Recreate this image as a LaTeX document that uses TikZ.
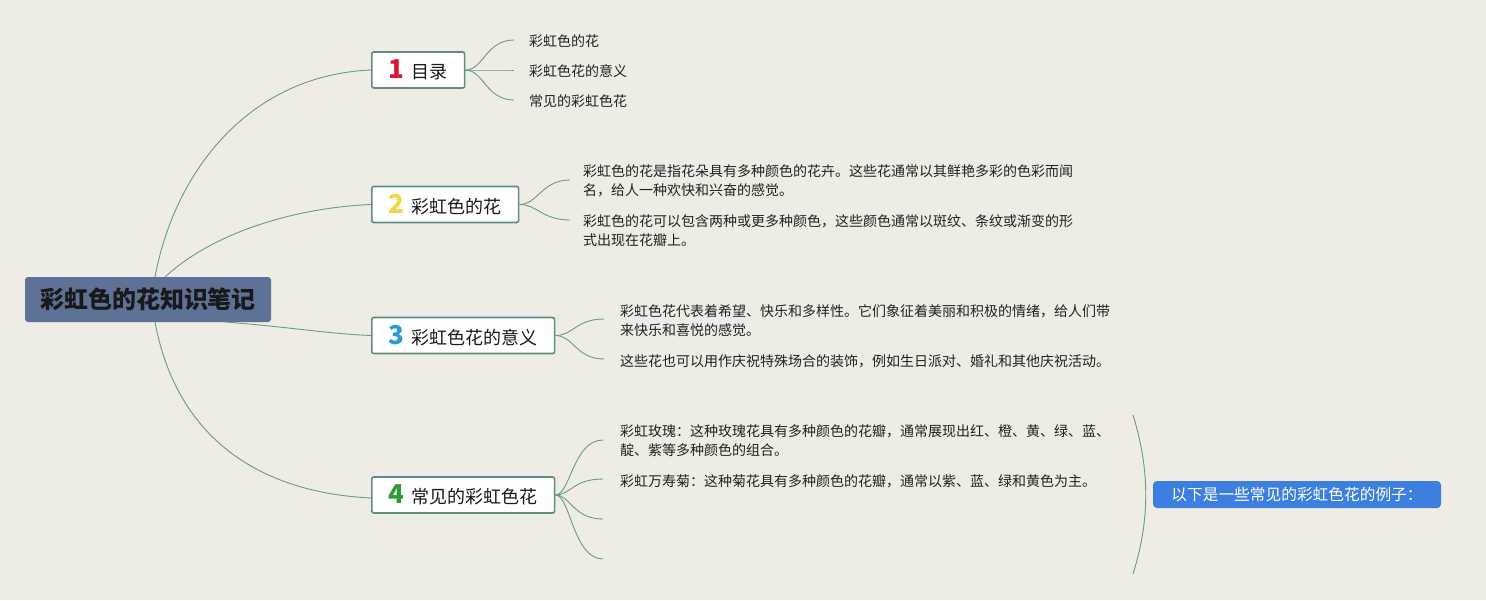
\documentclass[tikz,border=0pt]{standalone}
\usepackage{fontspec}
\setmainfont{Noto Sans CJK SC}
\definecolor{bgc}{HTML}{EFEBE5}
\definecolor{linec}{HTML}{6A9A88}
\definecolor{boxc}{HTML}{5B8F80}
\definecolor{rootc}{HTML}{5E7298}
\definecolor{sumc}{HTML}{3C7FDE}
\definecolor{textc}{HTML}{222222}
\definecolor{n1}{HTML}{D7192D}
\definecolor{n2}{HTML}{F5D44A}
\definecolor{n3}{HTML}{2B9AD9}
\definecolor{n4}{HTML}{2E9B36}
\newcommand\bnum[2]{{\color{#1}\fontsize{26}{26}\selectfont\bfseries #2}\hspace{7pt}}
\begin{document}
\begin{tikzpicture}[x=1pt,y=-1pt,
  conn/.style={draw=linec, line width=0.9pt},
  branch/.style={draw=boxc, line width=1.6pt, fill=white, rounded corners=2pt, minimum height=36pt, inner xsep=17pt, inner ysep=0pt, anchor=west, font=\fontsize{18}{18}\selectfont, text=black!90},
  sub/.style={inner sep=0pt, anchor=north west, align=left, font=\fontsize{14}{19.7}\selectfont, text=textc},
  sub1/.style={inner sep=0pt, anchor=west, font=\fontsize{14}{19.7}\selectfont, text=textc},
]
\useasboundingbox (0,0) rectangle (1486,600);
\fill[bgc] (0,0) rectangle (1486,600);

% root
\node[fill=rootc, rounded corners=3pt, minimum width=246pt, minimum height=45pt, inner sep=0pt, font=\fontsize{24}{24}\selectfont\bfseries, text=black!90] (root) at (148,299.5) {彩虹色的花知识笔记};

% branches
\node[branch] (b1) at (371,70) {\bnum{n1}{1}目录};
\node[branch] (b2) at (371,204.5) {\bnum{n2}{2}彩虹色的花};
\node[branch] (b3) at (371,335.5) {\bnum{n3}{3}彩虹色花的意义};
\node[branch] (b4) at (371,495) {\bnum{n4}{4}常见的彩虹色花};

% root connectors
\coordinate (r1) at (155,277);
\coordinate (r2) at (165,277);
\coordinate (r3) at (225,322);
\coordinate (r4) at (155,322);
\draw[conn] (r1) .. controls (175,170) and (250,75) .. (b1.west);
\draw[conn] (r2) .. controls (210,235) and (290,208) .. (b2.west);
\draw[conn] (r3) .. controls (290,327) and (330,334) .. (b3.west);
\draw[conn] (r4) .. controls (175,430) and (250,492) .. ([yshift=-3pt]b4.west);

% branch 1 subtopics
\node[sub1] (s11) at (529,41) {彩虹色的花};
\node[sub1] (s12) at (529,71) {彩虹色花的意义};
\node[sub1] (s13) at (529,101) {常见的彩虹色花};
\coordinate (e11) at (514,40);
\coordinate (e12) at (514,70);
\coordinate (e13) at (514,100);
\foreach \e in {e11,e12,e13}
  \draw[conn] (b1.east) .. controls +(18,0) and +(-28,0) .. (\e);

% branch 2 subtopics
\node[sub] (s21) at (583,164) {彩虹色的花是指花朵具有多种颜色的花卉。这些花通常以其鲜艳多彩的色彩而闻\\名，给人一种欢快和兴奋的感觉。};
\node[sub] (s22) at (583,214) {彩虹色的花可以包含两种或更多种颜色，这些颜色通常以斑纹、条纹或渐变的形\\式出现在花瓣上。};
\coordinate (e21) at (570,180);
\coordinate (e22) at (570,220);
\foreach \e in {e21,e22}
  \draw[conn] (b2.east) .. controls +(18,0) and +(-28,0) .. (\e);

% branch 3 subtopics
\node[sub] (s31) at (620,304) {彩虹色花代表着希望、快乐和多样性。它们象征着美丽和积极的情绪，给人们带\\来快乐和喜悦的感觉。};
\node[sub] (s32) at (620,354) {这些花也可以用作庆祝特殊场合的装饰，例如生日派对、婚礼和其他庆祝活动。};
\coordinate (e31) at (604,319);
\coordinate (e32) at (604,359);
\foreach \e in {e31,e32}
  \draw[conn] (b3.east) .. controls +(18,0) and +(-28,0) .. (\e);

% branch 4 subtopics
\node[sub] (s41) at (620,424) {彩虹玫瑰：这种玫瑰花具有多种颜色的花瓣，通常展现出红、橙、黄、绿、蓝、\\靛、紫等多种颜色的组合。};
\node[sub] (s42) at (620,474) {彩虹万寿菊：这种菊花具有多种颜色的花瓣，通常以紫、蓝、绿和黄色为主。};
\coordinate (e41) at (603,440);
\coordinate (e42) at (603,479);
\coordinate (e43) at (603,519);
\coordinate (e44) at (603,559);
\foreach \e in {e41,e42,e43,e44}
  \draw[conn] (b4.east) .. controls +(15,0) and +(-30,0) .. (\e);

% summary
\coordinate (sb1) at (1133,415);
\coordinate (sb2) at (1133,574);
\draw[conn] (sb1) .. controls (1150,470) and (1150,520) .. (sb2);
\node[fill=sumc, rounded corners=4pt, minimum width=288pt, minimum height=27pt, inner sep=0pt, text=white, font=\fontsize{15.7}{15.7}\selectfont] (sum) at (1297,494.5) {以下是一些常见的彩虹色花的例子：};
\end{tikzpicture}
\end{document}
